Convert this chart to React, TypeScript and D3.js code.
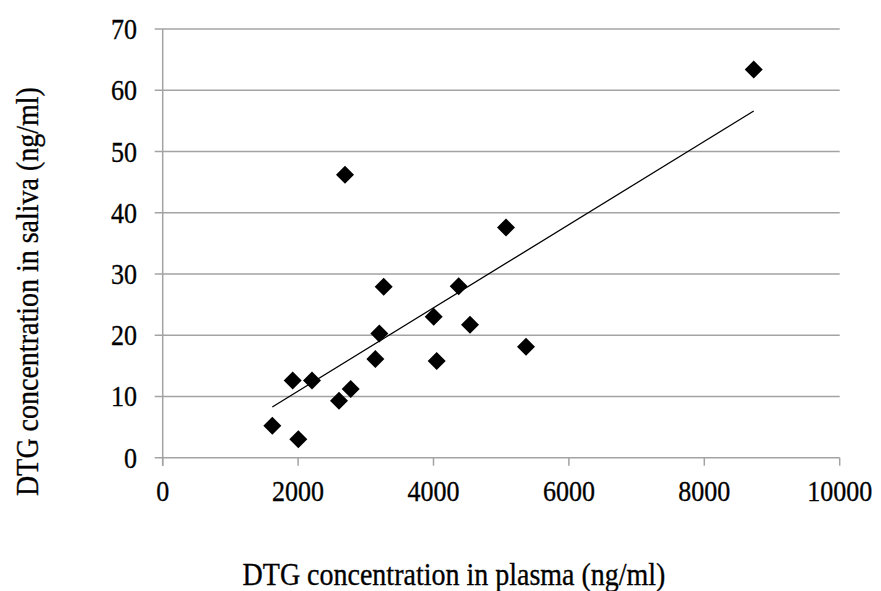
import React from "react";
import * as d3 from "d3";

const plasma = [1619, 2003, 1920, 2205, 2604, 2777, 3141, 3200, 3264, 2693, 4003, 4372, 4539, 4047, 5366, 5071, 8730];
const saliva = [5.2, 3.0, 12.6, 12.6, 9.3, 11.2, 16.1, 20.3, 27.9, 46.2, 23.0, 28.0, 21.7, 15.8, 18.1, 37.6, 63.4];
const xTicks = [0, 2000, 4000, 6000, 8000, 10000];
const yTicks = [0, 10, 20, 30, 40, 50, 60, 70];
const xTitle = "DTG concentration in plasma (ng/ml)";
const yTitle = "DTG concentration in saliva (ng/ml)";

export default function App() {
  const W = 881, H = 591;
  const x = d3.scaleLinear().domain([0, 10000]).range([162.7, 839.7]);
  const y = d3.scaleLinear().domain([0, 70]).range([457.7, 29]);
  const pts = plasma.map((p, i) => ({ p, s: saliva[i] }));

  const mx = d3.mean(plasma)!;
  const my = d3.mean(saliva)!;
  let sxy = 0, sxx = 0;
  pts.forEach(({ p, s }) => { sxy += (p - mx) * (s - my); sxx += (p - mx) * (p - mx); });
  const slope = sxy / sxx;
  const icpt = my - slope * mx;
  const [x0, x1] = d3.extent(plasma) as [number, number];
  const line = d3.line<number>().x((v) => x(v)).y((v) => y(icpt + slope * v));

  const grid = "#a3a3a3";
  const font = "'Liberation Serif', 'Times New Roman', serif";
  const dsz = 9;
  const diamond = `M0,${-dsz}L${dsz},0L0,${dsz}L${-dsz},0Z`;
  const sy = 1.1;

  return (
    <svg width={W} height={H} style={{ position: "absolute", left: 0, top: 0, background: "#fff" }}>
      <rect width={W} height={H} fill="#fff" />
      {yTicks.map((t) => (
        <g key={"y" + t}>
          <line x1={x(0) - 8} x2={x(10000)} y1={y(t)} y2={y(t)} stroke={grid} strokeWidth={1.5} />
          <text transform={`translate(137,${y(t)}) scale(1,${sy})`} dy="0.35em" textAnchor="end" fontFamily={font} fontSize={26} fill="#000" stroke="#000" strokeWidth={0.3}>{t}</text>
        </g>
      ))}
      <line x1={x(0)} x2={x(0)} y1={y(70)} y2={y(0) + 8} stroke={grid} strokeWidth={1.5} />
      {xTicks.map((t) => (
        <g key={"x" + t}>
          <line x1={x(t)} x2={x(t)} y1={y(0)} y2={y(0) + 8} stroke={grid} strokeWidth={1.5} />
          <text transform={`translate(${x(t)},501) scale(1,${sy})`} textAnchor="middle" fontFamily={font} fontSize={26} fill="#000" stroke="#000" strokeWidth={0.3}>{t}</text>
        </g>
      ))}
      <path d={line([x0, x1])!} stroke="#000" strokeWidth={1.3} fill="none" />
      {pts.map(({ p, s }, i) => (
        <path key={i} d={diamond} transform={`translate(${x(p)},${y(s)})`} fill="#000" />
      ))}
      <text transform={`translate(454,585) scale(1,${sy})`} textAnchor="middle" fontFamily={font} fontSize={28} fill="#000" stroke="#000" strokeWidth={0.3}>{xTitle}</text>
      <text transform={`translate(38,291.5) rotate(-90) scale(1,${sy})`} textAnchor="middle" fontFamily={font} fontSize={28} fill="#000" stroke="#000" strokeWidth={0.3}>{yTitle}</text>
    </svg>
  );
}
